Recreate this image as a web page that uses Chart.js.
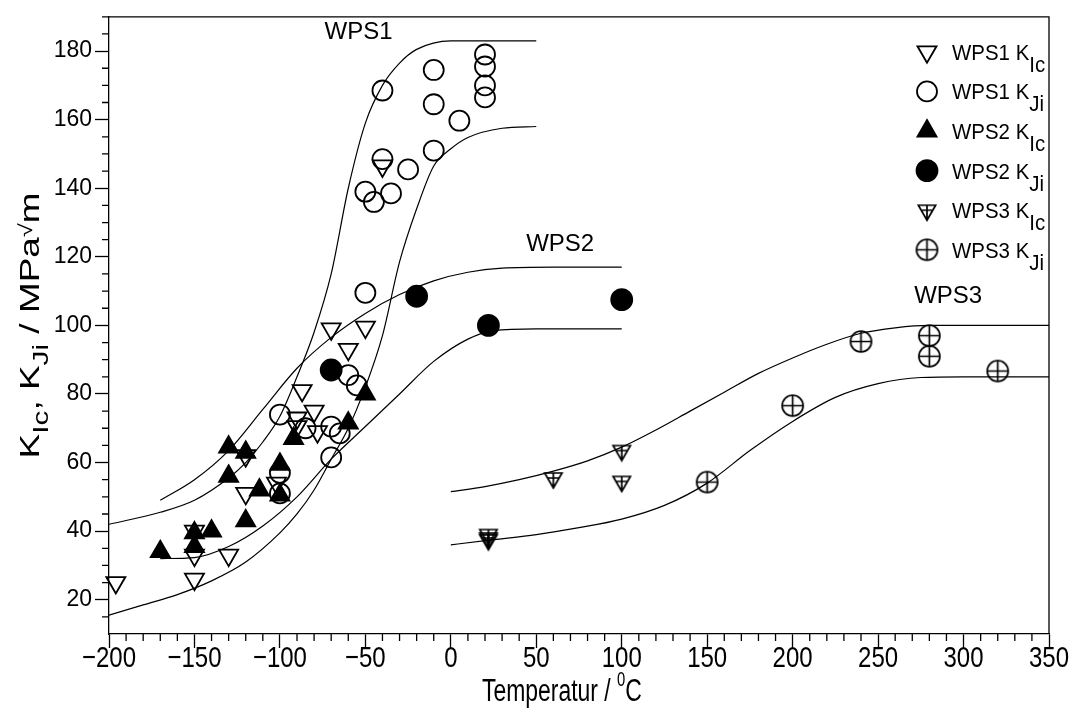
<!DOCTYPE html>
<html>
<head>
<meta charset="utf-8">
<script src="https://cdn.jsdelivr.net/npm/chart.js@4.4.1/dist/chart.umd.min.js"></script>
<style>
  html, body { margin: 0; padding: 0; background: #fff; }
</style>
</head>
<body>
<canvas id="chart" width="1081" height="722"></canvas>
<script>
// ---------- DATA ----------
const xTicks = [-200, -150, -100, -50, 0, 50, 100, 150, 200, 250, 300, 350];
const yTicks = [20, 40, 60, 80, 100, 120, 140, 160, 180];
const xMinorStep = 10;
const yMinorStep = 5;

// measured points [temperature °C, K MPa√m]
const wps1KIc = [[-196, 25], [-150, 26], [-150, 33], [-150, 40], [-130, 33], [-120, 62], [-120, 51],
  [-102, 54], [-90, 73], [-90, 70.5], [-87, 81], [-80, 75], [-78, 69], [-70, 99], [-60, 93], [-50, 99.5], [-40, 146.5]];
const wps1KJi = [[-100, 74], [-100, 57], [-100, 51], [-85, 70], [-70, 70.5], [-70, 61.5], [-65, 68.5],
  [-60, 85.5], [-55, 82.5], [-50, 109.5], [-50, 139], [-45, 136], [-40, 148.5], [-40, 168.5], [-35, 138.5],
  [-25, 145.5], [-10, 151], [-10, 164.5], [-10, 174.5], [5, 159.7], [20, 166.5], [20, 170], [20, 175.5], [20, 179]];
const wps2KIc = [[-170, 34], [-150, 35.5], [-150, 39.5], [-140, 40], [-130, 56], [-130, 64.5], [-120, 43],
  [-120, 63], [-112, 52], [-100, 50.5], [-100, 59.5], [-92, 67], [-60, 71.5], [-50, 80]];
const wps2KJi = [[-70, 87], [-20, 108.5], [22, 100], [100, 107.5]];
const wps3KIc = [[22, 39], [22, 38], [22, 37.5], [60, 55.5], [100, 63.5], [100, 54.5]];
const wps3KJi = [[150, 54.3], [200, 76.6], [240, 95.3], [280, 97], [280, 91], [320, 86.7]];

// scatter band curves
const wps1Upper = [[-200, 42], [-170, 45.5], [-150, 49], [-130, 55.5], [-120, 60], [-110, 66], [-100, 73.5],
  [-90, 85], [-80, 98], [-70, 115], [-60, 140], [-50, 159], [-40, 170], [-30, 176.5], [-20, 180.5], [0, 183], [50, 183]];
const wps1Lower = [[-200, 15.5], [-180, 18.5], [-160, 21.5], [-140, 25.5], [-120, 31], [-100, 39.5], [-90, 45],
  [-80, 52], [-70, 61], [-60, 70], [-50, 82], [-40, 97], [-30, 118.5], [-20, 134], [-10, 146.5], [0, 151.5],
  [10, 154.8], [30, 157.5], [50, 158]];
const wps2Upper = [[-170, 49], [-150, 55], [-130, 63.5], [-110, 75.5], [-90, 87.5], [-70, 96.5], [-50, 103.5],
  [-30, 109], [-10, 113], [10, 115.5], [30, 116.7], [60, 117], [100, 117]];
const wps2Lower = [[-170, 32], [-150, 32.3], [-130, 35.5], [-110, 41.5], [-90, 50], [-70, 61], [-50, 70.5],
  [-30, 80], [-10, 89.5], [10, 96], [25, 98.5], [50, 99], [100, 99]];
const wps3Upper = [[0, 51.5], [20, 53], [40, 55], [60, 57.5], [80, 60.5], [100, 64.5], [120, 69.5], [140, 75],
  [160, 80.5], [180, 86], [200, 90.5], [220, 94.5], [240, 97.7], [260, 99.3], [280, 100], [350, 100]];
const wps3Lower = [[0, 36], [25, 37.5], [50, 39], [75, 41], [100, 43.5], [125, 47.5], [150, 54], [175, 63.5],
  [200, 72], [225, 79], [250, 83], [275, 84.8], [300, 85], [350, 85]];

const bandNames = ['WPS1', 'WPS2', 'WPS3'];
const bandNameT = [-54, 64, 291];
const bandNameK = [185.5, 123.6, 108.6];

// ---------- STYLE ----------
const ink = '#000';
const fam = '"Liberation Sans", Arial, Helvetica, sans-serif';
const clear = 'rgba(0,0,0,0)';

function symbolCanvas(kind, r) {
  const size = Math.ceil(2 * r + 4);
  const c = document.createElement('canvas');
  c.width = size; c.height = size;
  const g = c.getContext('2d');
  const m = size / 2;
  g.strokeStyle = ink;
  g.lineWidth = 1.7;
  g.beginPath();
  if (kind === 'circlePlus') {
    g.arc(m, m, r, 0, 2 * Math.PI);
    g.moveTo(m - r, m); g.lineTo(m + r, m);
    g.moveTo(m, m - r); g.lineTo(m, m + r);
  } else {
    const hw = r * Math.sqrt(3) / 2;
    g.moveTo(m - hw, m - r / 2); g.lineTo(m + hw, m - r / 2); g.lineTo(m, m + r); g.closePath();
    g.moveTo(m, m - r / 2); g.lineTo(m, m + r);
    g.moveTo(m - hw * 2 / 3, m); g.lineTo(m + hw * 2 / 3, m);
  }
  g.stroke();
  return c;
}

const sWps1KIc = { pointStyle: 'triangle', pointRadius: 11, pointRotation: 180, pointBackgroundColor: clear };
const sWps1KJi = { pointStyle: 'circle', pointRadius: 10, pointRotation: 0, pointBackgroundColor: clear };
const sWps2KIc = { pointStyle: 'triangle', pointRadius: 11, pointRotation: 0, pointBackgroundColor: ink };
const sWps2KJi = { pointStyle: 'circle', pointRadius: 10.5, pointRotation: 0, pointBackgroundColor: ink };
const sWps3KIc = { pointStyle: symbolCanvas('trianglePlus', 10), pointRadius: 10, pointRotation: 0, pointBackgroundColor: clear };
const sWps3KJi = { pointStyle: symbolCanvas('circlePlus', 10.5), pointRadius: 10.5, pointRotation: 0, pointBackgroundColor: clear };

const legendRows = [
  ['WPS1 K', 'Ic', sWps1KIc], ['WPS1 K', 'Ji', sWps1KJi],
  ['WPS2 K', 'Ic', sWps2KIc], ['WPS2 K', 'Ji', sWps2KJi],
  ['WPS3 K', 'Ic', sWps3KIc], ['WPS3 K', 'Ji', sWps3KJi]
];

const xy = pts => pts.map(([x, y]) => ({ x, y }));
const fmtX = v => v < 0 ? '\u2212' + Math.abs(v) : String(v);

function curve(pts) {
  return {
    type: 'line', data: xy(pts), borderColor: ink, borderWidth: 1.2,
    pointRadius: 0, fill: false, cubicInterpolationMode: 'monotone', order: 10
  };
}

function markers(label, pts, style) {
  return Object.assign({
    type: 'scatter', label, data: xy(pts),
    pointBorderColor: ink, pointBorderWidth: 1.8, clip: false, order: 1
  }, style);
}

// ---------- TEXT HELPERS ----------
// runs: [text, size, dy]
function runsWidth(ctx, runs) {
  let w = 0;
  runs.forEach(([t, s]) => { ctx.font = `${s}px ${fam}`; w += ctx.measureText(t).width; });
  return w;
}
function drawRuns(ctx, runs, x, y) {
  let cx = x;
  ctx.textAlign = 'left';
  ctx.textBaseline = 'alphabetic';
  runs.forEach(([t, s, dy]) => {
    ctx.font = `${s}px ${fam}`;
    ctx.fillText(t, cx, y + dy);
    cx += ctx.measureText(t).width;
  });
}
// draw runs centred on (cx, baseline) with a squeeze / stretch
function drawRunsScaled(ctx, runs, cx, base, sx, sy) {
  const w = runsWidth(ctx, runs);
  ctx.save();
  ctx.translate(cx, base);
  ctx.scale(sx, sy);
  drawRuns(ctx, runs, -w / 2, 0);
  ctx.restore();
}

const decor = {
  id: 'decor',
  afterDraw(chart) {
    const { ctx, chartArea: a, scales: { x, y } } = chart;
    ctx.save();
    ctx.strokeStyle = ink;
    ctx.fillStyle = ink;
    ctx.lineWidth = 1.3;

    // top + right frame
    ctx.beginPath();
    ctx.moveTo(a.left, a.top); ctx.lineTo(a.right, a.top); ctx.lineTo(a.right, a.bottom);
    ctx.stroke();

    // minor ticks
    ctx.beginPath();
    for (let v = x.min; v <= x.max; v += xMinorStep) {
      if (xTicks.includes(v)) continue;
      const px = x.getPixelForValue(v);
      ctx.moveTo(px, a.bottom); ctx.lineTo(px, a.bottom + 7);
    }
    for (let v = y.min + yMinorStep; v <= y.max; v += yMinorStep) {
      if (yTicks.includes(v)) continue;
      const py = y.getPixelForValue(v);
      ctx.moveTo(a.left - 7, py); ctx.lineTo(a.left, py);
    }
    ctx.stroke();

    // x tick labels (narrow, tall face)
    x.ticks.forEach(t => {
      drawRunsScaled(ctx, [[fmtX(t.value), 30, 0]], x.getPixelForValue(t.value), a.bottom + 33, 0.8, 1);
    });

    // band names
    ctx.font = `24px ${fam}`;
    ctx.textAlign = 'center';
    ctx.textBaseline = 'middle';
    bandNames.forEach((n, i) => {
      ctx.fillText(n, x.getPixelForValue(bandNameT[i]), y.getPixelForValue(bandNameK[i]));
    });

    // x title
    drawRunsScaled(ctx, [['Temperatur / ', 31, 0], ['0', 20, -15], ['C', 31, 0]],
      x.getPixelForValue(65), 701, 0.74, 1);

    // y title (rotated, stretched along the text)
    const yRuns = [['K', 26, 0], ['Ic', 21, 9], [', K', 26, 0], ['Ji', 21, 9], [' / MPa', 26, 0], ['\u221A', 18, -7], ['m', 26, 0]];
    ctx.save();
    ctx.translate(39, (a.top + a.bottom) / 2);
    ctx.rotate(-Math.PI / 2);
    drawRunsScaled(ctx, yRuns, 0, 0, 1.42, 1.05);
    ctx.restore();

    // legend
    const lx = a.right - 122, tx = a.right - 97;
    legendRows.forEach(([main, sub, st], i) => {
      const ly = a.top + 35 + i * 39.6;
      ctx.fillStyle = st.pointBackgroundColor;
      ctx.strokeStyle = ink;
      ctx.lineWidth = 1.8;
      Chart.helpers.drawPoint(ctx, {
        pointStyle: st.pointStyle, radius: st.pointRadius, rotation: st.pointRotation, borderWidth: 1.8
      }, lx, ly);
      ctx.fillStyle = ink;
      ctx.save();
      ctx.translate(tx, ly + 8);
      ctx.scale(0.93, 1);
      drawRuns(ctx, [[main, 22, 0], [sub, 22, 12]], 0, 0);
      ctx.restore();
    });
    ctx.restore();
  }
};

new Chart(document.getElementById('chart'), {
  data: {
    datasets: [
      curve(wps1Upper), curve(wps1Lower), curve(wps2Upper), curve(wps2Lower), curve(wps3Upper), curve(wps3Lower),
      markers('WPS1 KIc', wps1KIc, sWps1KIc),
      markers('WPS1 KJi', wps1KJi, sWps1KJi),
      markers('WPS2 KIc', wps2KIc, sWps2KIc),
      markers('WPS2 KJi', wps2KJi, sWps2KJi),
      markers('WPS3 KIc', wps3KIc, sWps3KIc),
      markers('WPS3 KJi', wps3KJi, sWps3KJi)
    ]
  },
  options: {
    responsive: false,
    animation: false,
    devicePixelRatio: 1,
    events: [],
    layout: { padding: { top: 8, right: 32, left: 0, bottom: 0 } },
    plugins: { legend: { display: false }, tooltip: { enabled: false } },
    scales: {
      x: {
        type: 'linear', min: -200, max: 350,
        afterBuildTicks: s => { s.ticks = xTicks.map(value => ({ value })); },
        afterFit: s => { s.height = 88; },
        grid: { drawOnChartArea: false, tickLength: 14, tickColor: ink, tickWidth: 1.3 },
        border: { color: ink, width: 1.3 },
        // labels are drawn by the decor plugin in a narrower face
        ticks: { color: clear, padding: 2, maxRotation: 0, autoSkip: false, font: { family: fam, size: 20 }, callback: fmtX }
      },
      y: {
        type: 'linear', min: 10, max: 190,
        afterBuildTicks: s => { s.ticks = yTicks.map(value => ({ value })); },
        afterFit: s => { s.width = 109; },
        grid: { drawOnChartArea: false, tickLength: 14, tickColor: ink, tickWidth: 1.3 },
        border: { color: ink, width: 1.3 },
        ticks: { color: ink, padding: 3, font: { family: fam, size: 23 } }
      }
    }
  },
  plugins: [decor]
});
</script>
</body>
</html>
